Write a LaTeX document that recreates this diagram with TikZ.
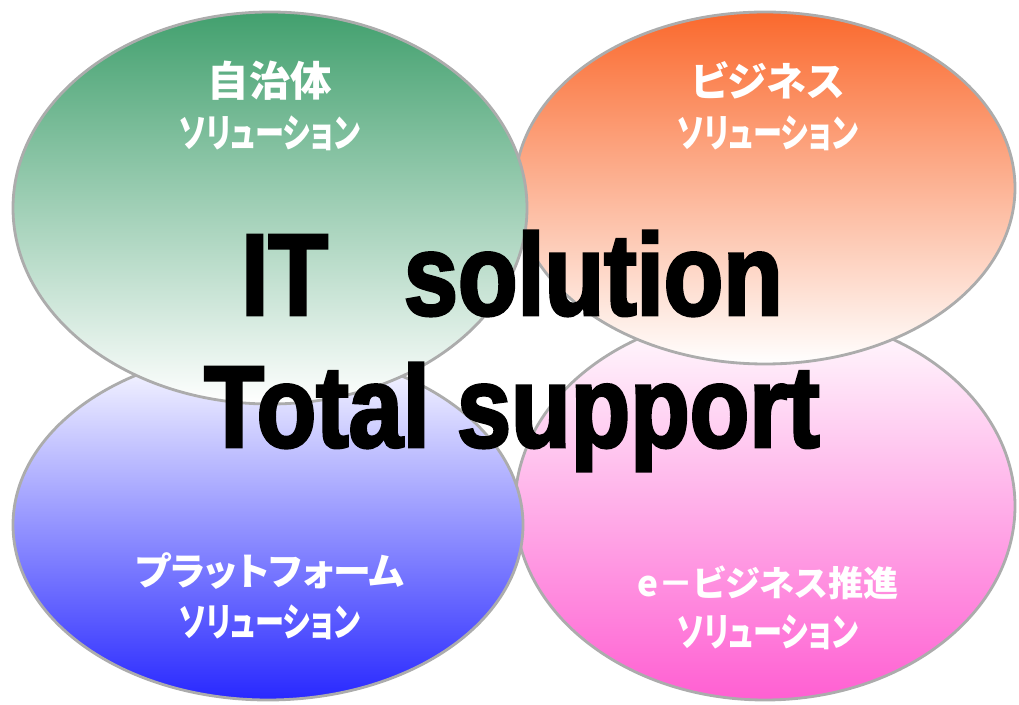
\documentclass[tikz,border=0pt]{standalone}
\usepackage{fontspec}
\usepackage{tikz}
\usetikzlibrary{calc}
\setmainfont{Liberation Sans}
\newfontfamily\jpfont[RawFeature=+palt]{Noto Sans CJK JP}
\newfontfamily\jpnarrow[RawFeature=+palt,FakeStretch=0.74]{Noto Sans CJK JP}
\newfontfamily\bigfont[FakeStretch=0.84,FakeBold=2.5]{Liberation Sans Bold}
\definecolor{verdeA}{RGB}{66,160,110}
\definecolor{naranjaA}{RGB}{250,105,45}
\definecolor{azulA}{RGB}{40,40,255}
\definecolor{rosaA}{RGB}{255,95,210}

\tikzset{
  burbuja/.style={draw=gray!65, line width=2pt},
  etiqueta/.style={text=white, align=center,
    font=\jpnarrow\bfseries\fontsize{28}{36}\selectfont},
  grande/.style={anchor=base, font=\bigfont\fontsize{82.5}{94}\selectfont}
}

\begin{document}
\begin{tikzpicture}[x=0.025cm,y=0.025cm]
  \useasboundingbox (0,0) rectangle (1019,704);

  % Elipses
  \shade[burbuja, top color=white, middle color=rosaA!40, bottom color=rosaA]
    (765,198) ellipse (250 and 194);
  \shade[burbuja, top color=white, middle color=azulA!45, bottom color=azulA]
    (268,179) ellipse (255 and 175);
  \shade[burbuja, top color=naranjaA, middle color=naranjaA!50, bottom color=white]
    (765,516) ellipse (250 and 176);
  \shade[burbuja, top color=verdeA, middle color=verdeA!50, bottom color=white]
    (270,496) ellipse (257 and 196);

  % Etiquetas
  \node[etiqueta] (jichitai) at (270,598) {{\jpfont\fontsize{29.5}{36}\selectfont 自治体}\\ソリューション};
  \node[etiqueta] (business) at (768,598) {{\jpfont\fontsize{28.5}{36}\selectfont ビジネス}\\ソリューション};
  \node[etiqueta] (platform) at (270,108) {{\jpfont\fontsize{27}{36}\selectfont プラットフォーム}\\ソリューション};
  \node[etiqueta] (ebusiness) at (768,96) {{\jpfont\fontsize{25}{36}\selectfont e－ビジネス推進}\\ソリューション};

  % Texto central
  \node[grande] (lineaA) at (512,389) {IT\hspace{54pt}solution};
  \node[grande] (lineaB) at (512,257) {Total support};
\end{tikzpicture}
\end{document}
